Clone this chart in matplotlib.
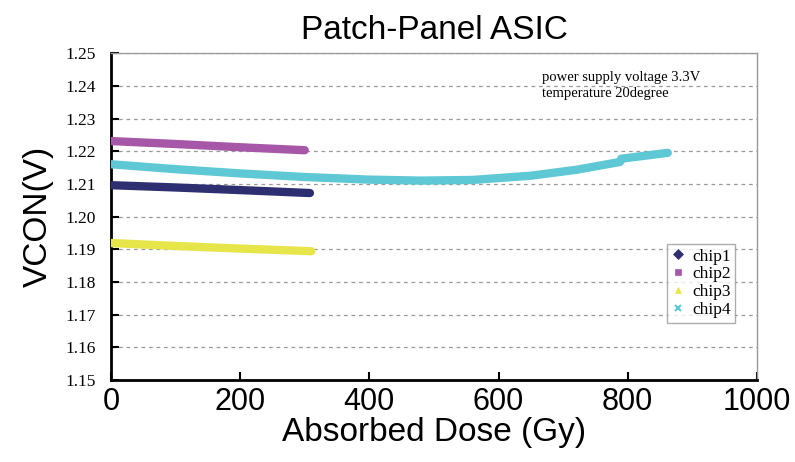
import matplotlib
matplotlib.use("Agg")
import matplotlib.pyplot as plt
from matplotlib.lines import Line2D

# dose (Gy) and VCON (V)
chip1_x = [0, 100, 200, 308]
chip1_y = [1.2096, 1.2089, 1.2081, 1.2072]
chip2_x = [0, 100, 200, 300]
chip2_y = [1.2231, 1.2222, 1.2212, 1.2203]
chip3_x = [0, 100, 200, 310]
chip3_y = [1.1919, 1.1910, 1.1902, 1.1894]
chip4_x = [0, 100, 200, 300, 400, 480, 560, 650, 720, 788, 790, 830, 862]
chip4_y = [1.2160, 1.2145, 1.2132, 1.2121, 1.2113, 1.2110, 1.2112, 1.2125, 1.2143, 1.2167,
           1.2177, 1.2187, 1.2195]

names = ["chip1", "chip2", "chip3", "chip4"]
colors = ["#2d2f70", "#a657a8", "#e6e64a", "#5ec8d4"]
markers = ["D", "s", "^", "x"]

x_ticks = [0, 200, 400, 600, 800, 1000]
y_ticks = [1.15, 1.16, 1.17, 1.18, 1.19, 1.20, 1.21, 1.22, 1.23, 1.24, 1.25]

fig = plt.figure(figsize=(7.95, 4.62), dpi=100)
ax = fig.add_axes([0.1396, 0.1775, 0.8125, 0.7075])

series = [(chip1_x, chip1_y), (chip2_x, chip2_y), (chip3_x, chip3_y), (chip4_x, chip4_y)]
for (xs, ys), c in zip(series, colors):
    ax.plot(xs, ys, color=c, lw=6, solid_capstyle="round", zorder=3)

ax.set_xlim(0, 1000)
ax.set_ylim(1.15, 1.25)
ax.set_xticks(x_ticks)
ax.set_yticks(y_ticks)
ax.set_xticklabels([str(v) for v in x_ticks], fontsize=22, family="Liberation Sans")
ax.set_yticklabels(["%.2f" % v for v in y_ticks], fontsize=12.5, family="Liberation Serif")
ax.tick_params(axis="both", direction="in", length=6, width=1.5)
ax.tick_params(axis="x", pad=5)
ax.tick_params(axis="y", pad=11)
ax.yaxis.grid(True, ls=(0, (3, 3)), color="#999999", lw=0.9)

for side in ["left", "bottom"]:
    ax.spines[side].set_linewidth(2)
    ax.spines[side].set_color("black")
for side in ["top", "right"]:
    ax.spines[side].set_linewidth(1)
    ax.spines[side].set_color("#999999")

ax.set_title("Patch-Panel ASIC", fontsize=24, family="Liberation Sans", pad=10)
ax.set_xlabel("Absorbed Dose (Gy)", fontsize=24, family="Liberation Sans", labelpad=0)
ax.set_ylabel("VCON(V)", fontsize=24, family="Liberation Sans", labelpad=8)

ax.text(0.667, 0.945, "power supply voltage 3.3V\ntemperature 20degree",
        transform=ax.transAxes, fontsize=10.5, family="Liberation Serif",
        va="top", ha="left", linespacing=1.3)

handles = [Line2D([], [], ls="none", marker=m, color=c, markersize=5,
                  markeredgewidth=1.5 if m == "x" else 0.5)
           for m, c in zip(markers, colors)]
leg = ax.legend(handles, names, loc="upper left", bbox_to_anchor=(0.861, 0.416),
                prop={"family": "Liberation Serif", "size": 12.5}, frameon=True,
                fancybox=False, handlelength=0.8, handletextpad=0.4,
                labelspacing=0.1, borderpad=0.25, borderaxespad=0)
leg.get_frame().set_edgecolor("#999999")
leg.get_frame().set_linewidth(1)

fig.savefig("out.png", dpi=100)
